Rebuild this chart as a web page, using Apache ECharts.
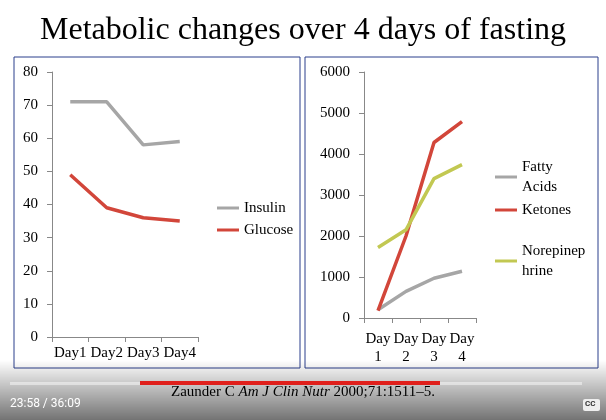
<!DOCTYPE html>
<html><head><meta charset="utf-8">
<script src="https://cdn.jsdelivr.net/npm/echarts@6/dist/echarts.min.js"></script>
<style>html,body{margin:0;padding:0;background:#fff}#c{width:606px;height:420px}</style>
</head><body><div id="c"></div>
<script>
const daysLeft = ['Day1','Day2','Day3','Day4'];
const daysRight = ['Day\n1','Day\n2','Day\n3','Day\n4'];
const insulin = [71, 71, 58, 59];
const glucose = [49, 39, 36, 35];
const fattyAcids = [200, 650, 970, 1140];
const ketones = [180, 2000, 4280, 4790];
const norepinephrine = [1720, 2150, 3400, 3740];

const F = 'Liberation Serif';
const GREY = '#a6a6a6', RED = '#d2463a', OLIVE = '#c2c852';
const chart = echarts.init(document.getElementById('c'));
const axisLbl = {color:'#000', fontFamily:F, fontSize:15};
const ax = {lineStyle:{color:'#888'}};
function leg(name, left, top){
  return {data:[name], left, top, orient:'vertical', itemWidth:22, itemHeight:3, icon:'rect',
    textStyle:{fontFamily:F, fontSize:15, color:'#000', lineHeight:20}};
}
chart.setOption({
  animation:false,
  title:{text:'Metabolic changes over 4 days of fasting', left:'center', top:10,
    textStyle:{fontFamily:F, fontSize:32, fontWeight:'normal', color:'#000'}},
  grid:[{left:52, top:72, width:146, bottom:83},{left:364, top:72, width:112, bottom:102}],
  xAxis:[
    {gridIndex:0, type:'category', data:daysLeft, axisLabel:{...axisLbl, interval:0, margin:9}, axisLine:ax, axisTick:{show:true, lineStyle:{color:'#888'}}},
    {gridIndex:1, type:'category', data:daysRight, axisLabel:{...axisLbl, interval:0, lineHeight:18, margin:12}, axisLine:ax, axisTick:{show:true, lineStyle:{color:'#888'}}}
  ],
  yAxis:[
    {gridIndex:0, type:'value', min:0, max:80, interval:10, axisLabel:{...axisLbl, margin:14}, axisLine:{show:true, ...ax}, axisTick:{show:true, lineStyle:{color:'#888'}}, splitLine:{show:false}},
    {gridIndex:1, type:'value', min:0, max:6000, interval:1000, axisLabel:{...axisLbl, margin:14, formatter:v=>String(v)}, axisLine:{show:true, ...ax}, axisTick:{show:true, lineStyle:{color:'#888'}}, splitLine:{show:false}}
  ],
  legend:[leg('Insulin',212,193), leg('Glucose',212,215), leg('Fatty\nAcids',490,152), leg('Ketones',490,195), leg('Norepinep\nhrine',490,236)],
  series:[
    {name:'Insulin', type:'line', data:insulin, xAxisIndex:0, yAxisIndex:0, showSymbol:false, lineStyle:{width:3.5}, color:GREY},
    {name:'Glucose', type:'line', data:glucose, xAxisIndex:0, yAxisIndex:0, showSymbol:false, lineStyle:{width:3.5}, color:RED},
    {name:'Fatty\nAcids', type:'line', data:fattyAcids, xAxisIndex:1, yAxisIndex:1, showSymbol:false, lineStyle:{width:3.5}, color:GREY},
    {name:'Ketones', type:'line', data:ketones, xAxisIndex:1, yAxisIndex:1, showSymbol:false, lineStyle:{width:3.5}, color:RED},
    {name:'Norepinep\nhrine', type:'line', data:norepinephrine, xAxisIndex:1, yAxisIndex:1, showSymbol:false, lineStyle:{width:3.5}, color:OLIVE}
  ],
  graphic:[
    {type:'rect', shape:{x:14,y:57,width:286,height:311}, style:{fill:'none', stroke:'#2b3f8c', lineWidth:1}},
    {type:'rect', shape:{x:305,y:57,width:293,height:311}, style:{fill:'none', stroke:'#2b3f8c', lineWidth:1}},
    {type:'rect', shape:{x:0,y:360,width:606,height:60}, style:{fill:{type:'linear',x:0,y:0,x2:0,y2:1,colorStops:[{offset:0,color:'rgba(0,0,0,0)'},{offset:1,color:'rgba(0,0,0,0.55)'}]}}},
    {type:'rect', shape:{x:10,y:382,width:572,height:3}, style:{fill:'rgba(255,255,255,0.45)'}},
    {type:'rect', shape:{x:140,y:381,width:300,height:4}, style:{fill:'#e0201c'}},
    {type:'text', left:'center', top:385, style:{text:'{n|Zaunder C }{i|Am J Clin Nutr}{n| 2000;71:1511–5.}', rich:{n:{fontFamily:F,fontSize:15,fill:'#000'},i:{fontFamily:F,fontSize:15,fontStyle:'italic',fill:'#000'}}}},
    {type:'text', left:10, top:398, style:{text:'23:58 / 36:09', fontFamily:'Roboto', fontSize:12, fill:'#fff'}},
    {type:'rect', shape:{x:583,y:399,width:17,height:12,r:2}, style:{fill:'#eee'}},
    {type:'text', left:585, top:400, style:{text:'CC', fontFamily:'Roboto', fontSize:8, fontWeight:'bold', fill:'#333'}}
  ]
});
</script></body></html>
